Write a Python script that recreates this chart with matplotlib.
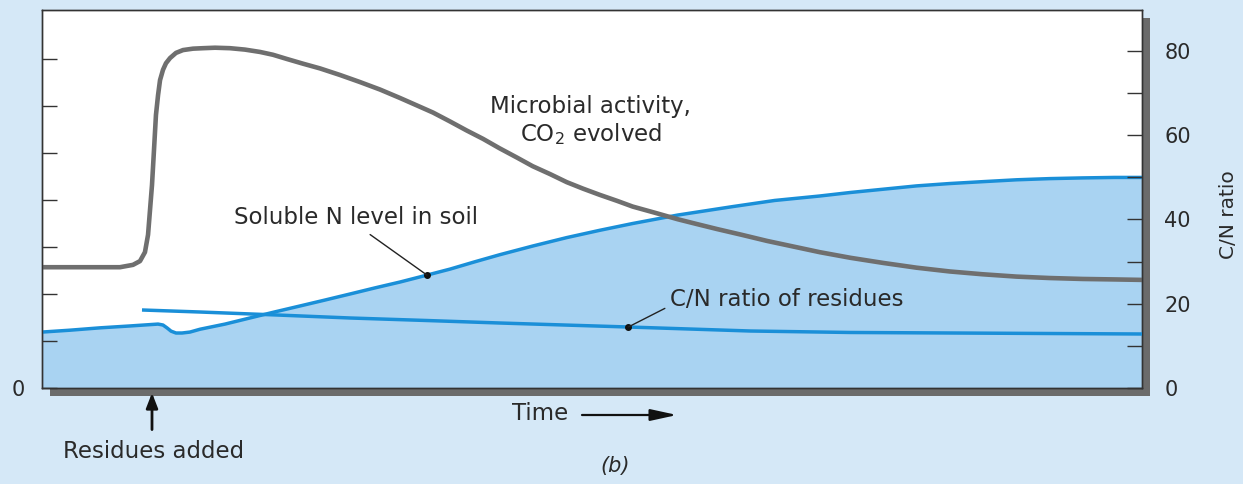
import numpy as np
import matplotlib
matplotlib.use("Agg")
import matplotlib.pyplot as plt
from matplotlib.patches import Rectangle

# time axis is arbitrary (0-100), residues added at t=10
t_added = 10.0

# Microbial activity / CO2 evolved (left axis units)
t_co2 = [0, 7.09, 8.27, 8.91, 9.36, 9.64, 9.82, 10.0, 10.18, 10.36, 10.55, 10.73, 11.0,
         11.27, 11.64, 12.18, 12.82, 13.73, 14.64, 15.73, 17.09, 18.45, 19.82, 21.0,
         22.27, 23.73, 25.27, 27.09, 28.9, 30.73, 32.55, 34.1, 35.55, 37.1, 38.6, 40.1,
         41.6, 43.2, 44.6, 46.2, 47.7, 49.2, 50.7, 52.3, 53.7, 55.7, 57.8, 59.5, 61.4,
         63.6, 65.9, 68.5, 70.7, 73.5, 76.5, 79.5, 82.5, 85.5, 88.6, 91.6, 94.6, 97.5, 100]
co2 = [2.57, 2.57, 2.62, 2.70, 2.89, 3.26, 3.79, 4.32, 5.06, 5.81, 6.23, 6.55, 6.77,
       6.91, 7.02, 7.13, 7.19, 7.22, 7.23, 7.24, 7.23, 7.20, 7.15, 7.09,
       7.00, 6.90, 6.80, 6.66, 6.51, 6.35, 6.17, 6.01, 5.86, 5.67, 5.48, 5.30,
       5.10, 4.90, 4.72, 4.55, 4.38, 4.24, 4.11, 3.98, 3.86, 3.73, 3.59, 3.49, 3.38,
       3.26, 3.13, 3.00, 2.89, 2.77, 2.66, 2.56, 2.48, 2.42, 2.37, 2.34, 2.32, 2.31, 2.30]

# Soluble N level in soil (left axis units)
t_n = [0, 2.55, 5.27, 8.0, 10.55, 11.0, 11.36, 11.73, 12.18, 12.73, 13.45, 14.36, 16.64,
       18.9, 21.18, 23.45, 25.7, 28.0, 30.27, 32.55, 34.8, 37.1, 39.36, 41.6, 44.6, 47.7,
       50.7, 53.7, 57.8, 62.8, 66.6, 70.7, 73.5, 76.5, 79.5, 82.5, 85.5, 88.6, 91.6,
       94.6, 97.5, 100]
sol_n = [1.19, 1.23, 1.28, 1.32, 1.36, 1.34, 1.28, 1.21, 1.17, 1.17, 1.19, 1.25, 1.36,
         1.49, 1.62, 1.745, 1.87, 2.0, 2.13, 2.255, 2.39, 2.53, 2.686, 2.835, 3.02, 3.20,
         3.355, 3.50, 3.68, 3.86, 3.99, 4.085, 4.16, 4.23, 4.30, 4.35, 4.39, 4.43, 4.455,
         4.47, 4.48, 4.48]

# C/N ratio of residues (right axis)
t_cn = [9.09, 14.36, 21.36, 28.0, 35.0, 41.6, 53.3, 64.4, 73.5, 82.5, 100]
cn = [18.52, 18.04, 17.33, 16.62, 16.02, 15.43, 14.48, 13.53, 13.18, 13.06, 12.82]

right_ticks = [0, 20, 40, 60, 80]
right_minor = [10, 30, 50, 70]
left_ticks = [1, 2, 3, 4, 5, 6, 7]

bg = '#d5e8f7'
fill_c = '#a9d3f2'
blue = '#1a8fd8'
gray = '#6f6f6f'
txt = '#2a2a2a'

plt.rcParams['font.family'] = ['DejaVu Sans']

W, H = 1243, 484
fig = plt.figure(figsize=(W / 100, H / 100), dpi=100, facecolor=bg)

# plot box in pixels
x0, x1, ytop, ybot = 42, 1142, 10, 388
ax = fig.add_axes([x0 / W, 1 - ybot / H, (x1 - x0) / W, (ybot - ytop) / H])

# drop shadow behind the box
fig.patches.append(Rectangle(((x0 + 8) / W, 1 - (ybot + 8) / H), (x1 - x0) / W, (ybot - ytop) / H,
                             transform=fig.transFigure, facecolor='#6b6b6b', edgecolor='none',
                             zorder=0))

ax.set_facecolor('white')
ax.set_zorder(2)
ax.set_xlim(0, 100)
ax.set_ylim(0, (ybot - ytop) / 47.0)

ax.fill_between(t_n, 0, sol_n, color=fill_c, lw=0, zorder=1)
ax.plot(t_n, sol_n, color=blue, lw=2.5, zorder=3, solid_capstyle='butt',
        solid_joinstyle='round')
ax.plot(t_co2, co2, color=gray, lw=3.3, zorder=4, solid_joinstyle='round')

ax2 = ax.twinx()
ax2.set_ylim(0, (ybot - ytop) / 4.2125)
ax2.plot(t_cn, cn, color=blue, lw=2.5, zorder=3, solid_capstyle='butt',
         solid_joinstyle='round')

for s in list(ax.spines.values()) + list(ax2.spines.values()):
    s.set_color('#333333')
    s.set_linewidth(1.0)

ax.set_xticks([])
ax.set_yticks([0] + left_ticks)
ax.set_yticklabels(['0'] + [''] * len(left_ticks))
ax.tick_params(axis='y', direction='in', length=11, width=1.0, color='#333333',
               pad=12, labelsize=15, labelcolor=txt)

ax2.set_yticks(right_ticks)
ax2.set_yticks(right_minor, minor=True)
ax2.tick_params(axis='y', which='both', direction='in', length=11, width=1.0,
                color='#333333', pad=16, labelsize=15, labelcolor=txt)

fs = 16.5

# annotations with dot + leader line
n_dot_t = 35.0
n_dot_v = np.interp(n_dot_t, t_n, sol_n)
ax.plot([n_dot_t], [n_dot_v], 'o', color='#111111', ms=4, zorder=6)
ax.annotate('Soluble N level in soil', xy=(n_dot_t, n_dot_v), xytext=(28.5, 3.62),
            ha='center', va='center', fontsize=fs, color=txt, zorder=6,
            arrowprops=dict(arrowstyle='-', color='#222222', lw=1.0,
                            relpos=(0.53, 0.0), shrinkA=3, shrinkB=0))

cn_dot_t = 53.3
cn_dot_v = np.interp(cn_dot_t, t_cn, cn)
ax2.plot([cn_dot_t], [cn_dot_v], 'o', color='#111111', ms=4, zorder=6)
ax2.annotate('C/N ratio of residues', xy=(cn_dot_t, cn_dot_v), xytext=(57.1, 20.9),
             ha='left', va='center', fontsize=fs, color=txt, zorder=6,
             arrowprops=dict(arrowstyle='-', color='#222222', lw=1.0,
                             relpos=(0.0, 0.25), shrinkA=2, shrinkB=0))

ax.text(49.9, 5.68, 'Microbial activity,\nCO$_2$ evolved', ha='center', va='center',
        fontsize=fs, color=txt, linespacing=1.2, zorder=6)

# labels outside the box (figure pixel coords)
fig.text(1228 / W, 1 - 215 / H, 'C/N ratio', rotation=90, ha='center', va='center',
         fontsize=14.5, color=txt)
fig.text(540 / W, 1 - 413 / H, 'Time', ha='center', va='center', fontsize=fs, color=txt)
ax.annotate('', xy=(677, H - 415), xycoords='figure pixels',
            xytext=(582, H - 415), textcoords='figure pixels',
            arrowprops=dict(arrowstyle='-|>,head_length=1.6,head_width=0.35',
                            color='#111111', lw=1.6, shrinkA=0, shrinkB=0))

ax.annotate('', xy=(t_added, -0.013), xycoords=ax.get_xaxis_transform(),
            xytext=(t_added, -0.11), textcoords=ax.get_xaxis_transform(),
            arrowprops=dict(arrowstyle='-|>,head_length=0.9,head_width=0.35',
                            color='#111111', lw=2.0, shrinkA=0, shrinkB=0),
            annotation_clip=False)
fig.text(154 / W, 1 - 452 / H, 'Residues added', ha='center', va='center',
         fontsize=fs, color=txt)
fig.text(615 / W, 1 - 466 / H, '(b)', ha='center', va='center', fontsize=15,
         style='italic', color=txt)

fig.savefig('out.png', dpi=100, facecolor=bg)
